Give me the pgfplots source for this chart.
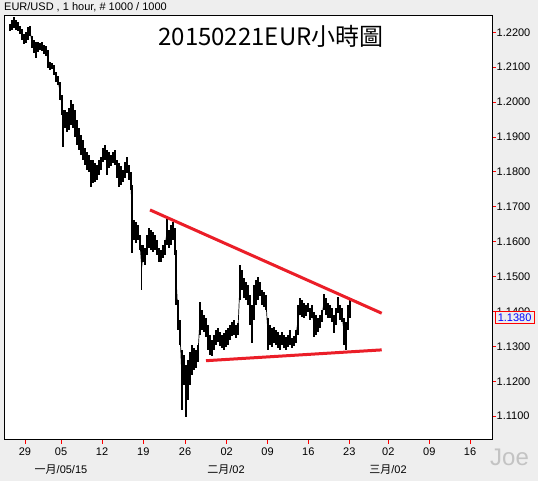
\documentclass[border=0pt]{standalone}
\usepackage{fontspec}
\setmainfont{Liberation Sans}
\newfontfamily\cjk{Noto Sans CJK TC}
\usepackage{pgfplots}
\usepackage{pgfplotstable}
\pgfplotsset{compat=1.18}
\definecolor{bg}{RGB}{238,238,238}
\definecolor{wm}{RGB}{195,195,195}
\definecolor{trend}{RGB}{235,30,40}

% hourly bars, read per ~2px column: x position, low, high
\pgfplotstableread{
x lo hi
10 1.2204 1.2224
12 1.2207 1.2235
14 1.2212 1.2244
16 1.2207 1.2235
18 1.2204 1.2230
20 1.2195 1.2218
22 1.2178 1.2210
24 1.2167 1.2195
26 1.2169 1.2201
28 1.2178 1.2215
30 1.2189 1.2218
32 1.2155 1.2189
34 1.2141 1.2178
36 1.2126 1.2172
38 1.2144 1.2172
40 1.2149 1.2169
42 1.2146 1.2172
44 1.2138 1.2164
46 1.2132 1.2161
48 1.2098 1.2149
50 1.2092 1.2115
52 1.2095 1.2112
54 1.2078 1.2106
56 1.2058 1.2086
58 1.2049 1.2075
60 1.2006 1.2058
62 1.1963 1.2020
63 1.1871 1.1977
65 1.1926 1.1977
67 1.1914 1.1972
69 1.1920 1.1983
71 1.1934 1.2006
73 1.1926 1.1995
75 1.1900 1.1977
77 1.1877 1.1949
79 1.1863 1.1926
81 1.1848 1.1906
83 1.1834 1.1891
85 1.1820 1.1869
87 1.1806 1.1857
89 1.1800 1.1848
91 1.1757 1.1834
93 1.1768 1.1834
95 1.1771 1.1826
97 1.1777 1.1820
99 1.1791 1.1834
101 1.1806 1.1843
103 1.1828 1.1869
105 1.1834 1.1877
107 1.1791 1.1863
109 1.1811 1.1857
111 1.1817 1.1848
113 1.1826 1.1857
115 1.1820 1.1863
117 1.1783 1.1834
119 1.1757 1.1826
121 1.1763 1.1817
123 1.1771 1.1806
125 1.1783 1.1828
127 1.1797 1.1843
129 1.1777 1.1820
131 1.1748 1.1800
132 1.1568 1.1763
134 1.1605 1.1662
136 1.1596 1.1657
138 1.1605 1.1648
140 1.1576 1.1619
141.7 1.1462 1.1591
143 1.1542 1.1591
145 1.1533 1.1582
147 1.1562 1.1619
149 1.1582 1.1639
151 1.1576 1.1634
153 1.1571 1.1628
155 1.1576 1.1619
157 1.1562 1.1605
159 1.1542 1.1582
161 1.1542 1.1576
163 1.1553 1.1591
165 1.1562 1.1605
167 1.1591 1.1668
169 1.1582 1.1634
171 1.1591 1.1648
173 1.1605 1.1657
175 1.1562 1.1639
176 1.1419 1.1576
178 1.1347 1.1433
180 1.1304 1.1376
182 1.1118 1.1290
184 1.1189 1.1275
186 1.1098 1.1247
188 1.1146 1.1261
190 1.1189 1.1284
192 1.1218 1.1304
194 1.1232 1.1295
196 1.1238 1.1290
198 1.1255 1.1304
200 1.1333 1.1427
202 1.1347 1.1404
204 1.1341 1.1390
206 1.1327 1.1381
208 1.1290 1.1361
210 1.1275 1.1333
212 1.1273 1.1318
214 1.1290 1.1333
216 1.1304 1.1347
218 1.1313 1.1353
220 1.1301 1.1341
222 1.1295 1.1333
224 1.1290 1.1338
226 1.1298 1.1347
228 1.1304 1.1353
230 1.1318 1.1361
232 1.1330 1.1370
234 1.1333 1.1376
236 1.1324 1.1361
238 1.1333 1.1367
240 1.1433 1.1533
242 1.1462 1.1519
244 1.1439 1.1496
246 1.1433 1.1485
248 1.1419 1.1476
250 1.1361 1.1447
252 1.1310 1.1419
254 1.1376 1.1476
256 1.1419 1.1490
258 1.1433 1.1499
260 1.1444 1.1485
262 1.1419 1.1462
264 1.1413 1.1456
266 1.1404 1.1447
268 1.1290 1.1381
270 1.1304 1.1361
272 1.1298 1.1353
274 1.1310 1.1356
276 1.1304 1.1347
278 1.1295 1.1341
280 1.1290 1.1333
282 1.1304 1.1341
284 1.1295 1.1333
286 1.1290 1.1327
288 1.1298 1.1333
290 1.1304 1.1347
292 1.1295 1.1324
294 1.1301 1.1330
296 1.1310 1.1347
298 1.1333 1.1419
300 1.1390 1.1439
302 1.1384 1.1433
304 1.1381 1.1424
306 1.1387 1.1419
308 1.1399 1.1424
310 1.1376 1.1410
312 1.1381 1.1419
314 1.1327 1.1399
316 1.1333 1.1390
318 1.1341 1.1381
320 1.1353 1.1390
322 1.1370 1.1404
324 1.1404 1.1450
326 1.1390 1.1439
328 1.1381 1.1424
330 1.1381 1.1419
332 1.1370 1.1410
334 1.1338 1.1390
336 1.1361 1.1410
338 1.1396 1.1442
340 1.1376 1.1419
342 1.1370 1.1410
344 1.1304 1.1381
346 1.1290 1.1370
348 1.1347 1.1419
350 1.1381 1.1433
}\bars

\begin{document}
\begin{tikzpicture}[x=1bp,y=1bp]
\fill[bg] (0,0) rectangle (538,481);
\begin{axis}[
    at={(4bp,41bp)}, anchor=south west,
    width=488bp, height=424bp, scale only axis,
    xmin=4, xmax=492, ymin=1.10318, ymax=1.22467,
    axis background/.style={fill=white},
    axis line style={black, line width=1bp},
    tick align=outside, major tick length=4bp,
    tick style={red, line width=0.8bp},
    ytick pos=right, yticklabel pos=right,
    xtick pos=left,
    ytick={1.11,1.12,1.13,1.14,1.15,1.16,1.17,1.18,1.19,1.20,1.21,1.22},
    yticklabel style={/pgf/number format/.cd, fixed, fixed zerofill, precision=4, /tikz/.cd, inner sep=0.5bp},
    xtick={25,61,102,143.3,185,226.7,267.5,308.3,349.3,388.3,429.3,470},
    xticklabels={29,05,12,19,26,02,09,16,23,02,09,16},
    /pgf/number format/assume math mode=true,
    ticklabel style={font=\fontsize{11bp}{13bp}\selectfont, black},
]
\addplot[black, line width=0.7bp, mark=none,
    error bars/.cd, y dir=both, y explicit, error mark=none,
    error bar style={line width=1.1bp, black}]
    table[x=x, y expr={(\thisrow{lo}+\thisrow{hi})/2}, y error expr={(\thisrow{hi}-\thisrow{lo})/2}] {\bars};
\addplot[trend, line width=3bp] coordinates {(150,1.1691) (381.7,1.1395)};
\addplot[trend, line width=3bp] coordinates {(206,1.1259) (381.7,1.1290)};
\end{axis}
\node[anchor=base west, inner sep=0pt, font=\fontsize{11bp}{13bp}\selectfont] at (4,470) {EUR/USD , 1 hour, \# 1000 / 1000};
\node[font=\cjk\fontsize{24bp}{28bp}\selectfont] at (271,445) {20150221EUR小時圖};
\node[font=\fontsize{11bp}{13bp}\selectfont] at (61,11) {{\cjk 一月}/05/15};
\node[font=\fontsize{11bp}{13bp}\selectfont] at (226,11) {{\cjk 二月}/02};
\node[font=\fontsize{11bp}{13bp}\selectfont] at (388,11) {{\cjk 三月}/02};
\node[anchor=base west, inner sep=0pt, text=wm, font=\fontsize{24bp}{28bp}\selectfont] at (490,15) {Joe};
\draw[red, line width=0.8bp, fill=bg] (495.3,157.7) rectangle (534,169.3);
\node[text=blue, inner sep=0pt, font=\fontsize{11bp}{13bp}\selectfont] at (514.6,163.5) {1.1380};
\end{tikzpicture}
\end{document}
